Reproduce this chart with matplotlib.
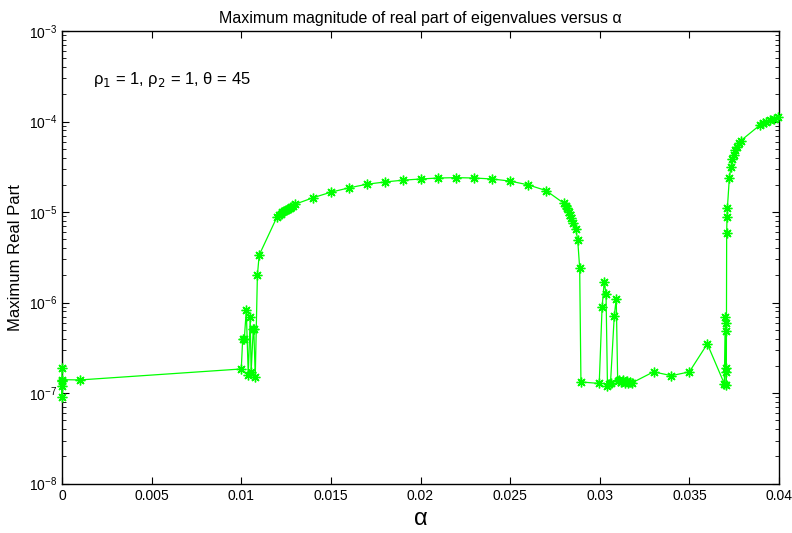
import numpy as np
import matplotlib
matplotlib.use('Agg')
from matplotlib import pyplot as plt
from matplotlib.ticker import LogLocator, NullFormatter

plt.rcParams['font.family'] = ['Liberation Sans', 'DejaVu Sans']

# alpha values and max real part
alpha = [0, 0, 0, 0, 0, 0.001,
         0.0100, 0.01008, 0.01017, 0.01028, 0.01039, 0.0105, 0.01055, 0.01067, 0.0107, 0.01078,
         0.0109, 0.0110, 0.0120,
         0.0121, 0.0122, 0.0123, 0.0124, 0.0125, 0.0126, 0.0127, 0.0128, 0.0129, 0.0130,
         0.014, 0.015, 0.016, 0.017, 0.018, 0.019, 0.020, 0.021, 0.022, 0.023, 0.024,
         0.025, 0.026, 0.027,
         0.0280, 0.0281, 0.0282, 0.0283, 0.02835, 0.0284, 0.0285,
         0.02866, 0.02877, 0.02888, 0.02895,
         0.02997, 0.03013, 0.03025, 0.03035, 0.03043, 0.03053, 0.0306, 0.03081, 0.03092,
         0.0310, 0.0311, 0.0312, 0.0313, 0.0314, 0.0315, 0.0316, 0.0317, 0.0318,
         0.033, 0.034, 0.035, 0.036,
         0.03695, 0.0370, 0.03702, 0.03703, 0.03704, 0.03705, 0.03706,
         0.03708, 0.0371, 0.03712, 0.03723, 0.03732, 0.0374, 0.03748, 0.03757, 0.03766,
         0.03776, 0.03787,
         0.03894, 0.0391, 0.0393, 0.0395, 0.0397, 0.03996]
max_real = [1.9e-7, 1.2e-7, 9.0e-8, 1.36e-7, 1.41e-7, 1.4e-7,
            1.85e-7, 4.0e-7, 4.0e-7, 8.2e-7, 1.6e-7, 6.9e-7, 1.7e-7, 5.1e-7, 5.1e-7, 1.5e-7,
            2.0e-6, 3.35e-6, 8.9e-6,
            9.3e-6, 9.6e-6, 1.0e-5, 1.03e-5, 1.06e-5, 1.09e-5, 1.12e-5, 1.15e-5, 1.18e-5, 1.22e-5,
            1.44e-5, 1.66e-5, 1.85e-5, 2.03e-5, 2.15e-5, 2.25e-5, 2.32e-5, 2.38e-5, 2.4e-5, 2.38e-5, 2.32e-5,
            2.2e-5, 2.0e-5, 1.73e-5,
            1.25e-5, 1.18e-5, 1.1e-5, 1.0e-5, 9.3e-6, 8.6e-6, 7.6e-6,
            6.5e-6, 4.9e-6, 2.4e-6, 1.33e-7,
            1.28e-7, 8.9e-7, 1.7e-6, 1.24e-6, 1.2e-7, 1.25e-7, 1.3e-7, 7.2e-7, 1.1e-6,
            1.35e-7, 1.4e-7, 1.32e-7, 1.38e-7, 1.3e-7, 1.35e-7, 1.28e-7, 1.33e-7, 1.3e-7,
            1.72e-7, 1.56e-7, 1.72e-7, 3.5e-7,
            1.27e-7, 6.9e-7, 6.0e-7, 4.9e-7, 1.9e-7, 1.7e-7, 1.22e-7,
            5.9e-6, 8.85e-6, 1.11e-5, 2.39e-5, 3.18e-5, 3.84e-5, 4.3e-5, 4.8e-5, 5.3e-5,
            5.8e-5, 6.15e-5,
            9.16e-5, 9.6e-5, 1.0e-4, 1.04e-4, 1.08e-4, 1.12e-4]

xticks = [0, 0.005, 0.01, 0.015, 0.02, 0.025, 0.03, 0.035, 0.04]
xticklabels = ['0', '0.005', '0.01', '0.015', '0.02', '0.025', '0.03', '0.035', '0.04']

fig = plt.figure(figsize=(7.92, 5.33), dpi=100)
ax = fig.add_axes([0.0783, 0.0925, 0.9053, 0.8493])

# matlab-style asterisk marker (8 spokes)
ax.semilogy(alpha, max_real, color='#00ff00', linewidth=0.9, marker=(8, 2, 0),
            markersize=7, markeredgewidth=1.0, clip_on=False, zorder=3)

ax.set_xlim(0, 0.04)
ax.set_ylim(1e-8, 1e-3)
ax.set_xticks(xticks)
ax.set_xticklabels(xticklabels)
ax.yaxis.set_major_locator(LogLocator(base=10, numticks=10))
ax.yaxis.set_minor_locator(LogLocator(base=10, subs=np.arange(2, 10), numticks=10))
ax.yaxis.set_minor_formatter(NullFormatter())

ax.tick_params(which='both', direction='in', top=True, right=True, labelsize=10)
ax.tick_params(which='major', length=5)
ax.tick_params(which='minor', length=3)
for sp in ax.spines.values():
    sp.set_linewidth(1.0)

ax.set_title('Maximum magnitude of real part of eigenvalues versus α', fontsize=11.5, pad=6)
ax.set_xlabel('α', fontsize=17)
ax.set_ylabel('Maximum Real Part', fontsize=12)
ax.text(0.00173, 2.9e-4, 'ρ$_1$ = 1, ρ$_2$ = 1, θ = 45', fontsize=12, va='center')

fig.savefig('out.png', dpi=100)
